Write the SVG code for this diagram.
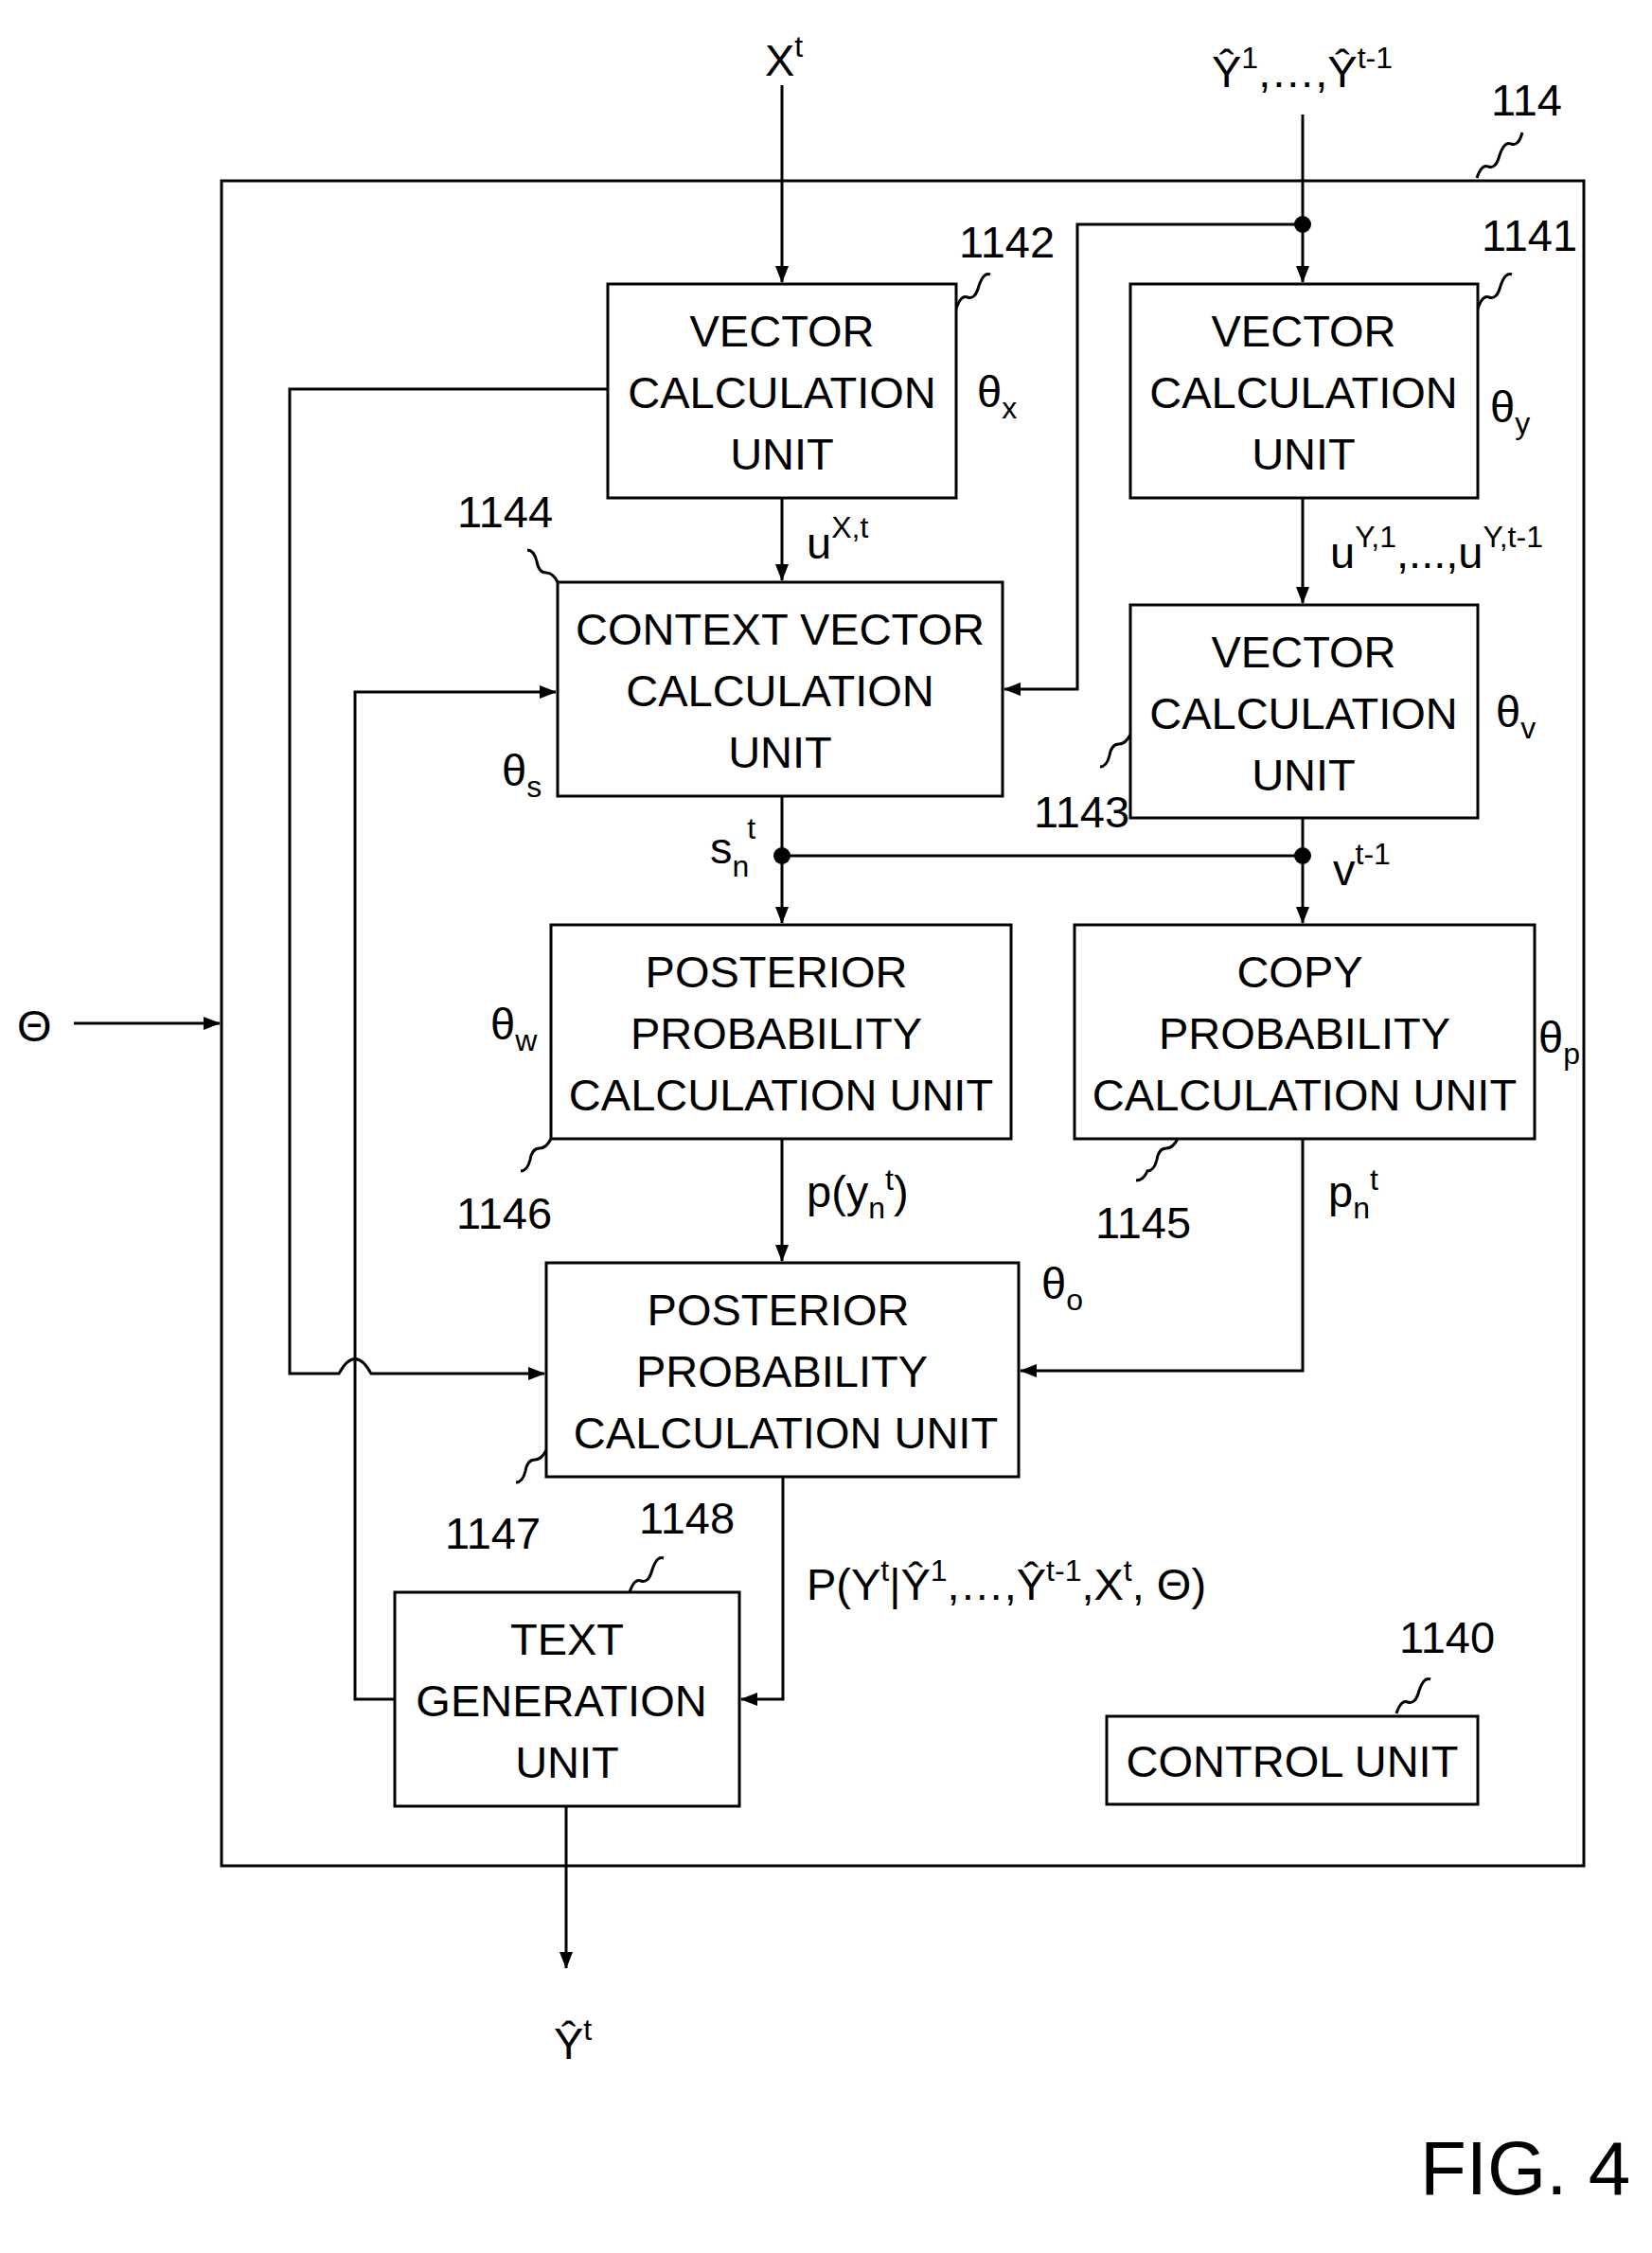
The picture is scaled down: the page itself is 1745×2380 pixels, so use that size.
<svg xmlns="http://www.w3.org/2000/svg" width="1745" height="2380" viewBox="0 0 1745 2380">
<defs>
<marker id="a" markerWidth="18" markerHeight="14" refX="17" refY="7" orient="auto" markerUnits="userSpaceOnUse" viewBox="0 0 18 14"><path d="M0,0 L18,7 L0,14 z" fill="#000"/></marker>
<style>
.b{fill:#fff;stroke:#000;stroke-width:3}
.l{fill:none;stroke:#000;stroke-width:3}
.t{font-family:"Liberation Sans",Arial,sans-serif;font-size:47px;fill:#000}
.c{text-anchor:middle}
.s{font-size:32px}
</style>
</defs>
<rect x="0" y="0" width="1745" height="2380" fill="#fff"/>
<rect class="b" x="234" y="191" width="1439" height="1780"/>
<g id="connectors" class="l">
<path d="M826,90 V298" marker-end="url(#a)"/>
<path d="M1376,121 V298" marker-end="url(#a)"/>
<path d="M1376,237 H1138 V728 H1061" marker-end="url(#a)"/>
<path d="M826,526 V613" marker-end="url(#a)"/>
<path d="M1376,526 V637" marker-end="url(#a)"/>
<path d="M826,841 V975" marker-end="url(#a)"/>
<path d="M826,904 H1376"/>
<path d="M1376,864 V975" marker-end="url(#a)"/>
<path d="M826,1203 V1332" marker-end="url(#a)"/>
<path d="M1376,1203 V1448 H1078" marker-end="url(#a)"/>
<path d="M642,411 H306 V1451 H358 Q375,1420 392,1451 H575" marker-end="url(#a)"/>
<path d="M417,1795 H375 V731 H587" marker-end="url(#a)"/>
<path d="M827,1560 V1795 H783" marker-end="url(#a)"/>
<path d="M598,1908 V2079" marker-end="url(#a)"/>
<path d="M78,1081 H232" marker-end="url(#a)"/>
<path d="M1560,188 q5,-15 12,-12 q8,3 12,-12 q5,-15 12,-12 q8,3 12,-12"/>
<path d="M1010,326 q5,-15 12,-12 q8,3 12,-12 q5,-15 12,-12"/>
<path d="M1561,326 q5,-15 12,-12 q8,3 12,-12 q5,-15 12,-12"/>
<path d="M589,615 q-5,-10 -12,-10 q-8,0 -10,-12 q-3,-12 -10,-12"/>
<path d="M1194,776 q-5,10 -12,10 q-8,0 -10,12 q-3,12 -10,12"/>
<path d="M582,1203 q-5,10 -12,10 q-8,0 -10,12 q-3,12 -10,12"/>
<path d="M1244,1203 q-5,10 -12,10 q-8,0 -10,12 q-3,12 -10,12 q-4,10 -12,10"/>
<path d="M577,1532 q-5,10 -12,10 q-8,0 -10,12 q-3,12 -10,12"/>
<path d="M665,1682 q5,-15 12,-12 q8,3 12,-12 q5,-15 12,-12"/>
<path d="M1475,1810 q5,-15 12,-12 q8,3 12,-12 q5,-15 12,-12"/>
</g>
<g fill="#000"><circle cx="1376" cy="237" r="9"/><circle cx="826" cy="904" r="9"/><circle cx="1376" cy="904" r="9"/></g>
<g id="n1142"><rect class="b" x="642" y="300" width="368" height="226"/><text class="t c" x="826" y="366">VECTOR</text><text class="t c" x="826" y="431">CALCULATION</text><text class="t c" x="826" y="496">UNIT</text></g>
<g id="n1141"><rect class="b" x="1194" y="300" width="367" height="226"/><text class="t c" x="1377" y="366">VECTOR</text><text class="t c" x="1377" y="431">CALCULATION</text><text class="t c" x="1377" y="496">UNIT</text></g>
<g id="n1144"><rect class="b" x="589" y="615" width="470" height="226"/><text class="t c" x="824" y="681">CONTEXT VECTOR</text><text class="t c" x="824" y="746">CALCULATION</text><text class="t c" x="824" y="811">UNIT</text></g>
<g id="n1143"><rect class="b" x="1194" y="639" width="367" height="225"/><text class="t c" x="1377" y="705">VECTOR</text><text class="t c" x="1377" y="770">CALCULATION</text><text class="t c" x="1377" y="835">UNIT</text></g>
<g id="n1146"><rect class="b" x="582" y="977" width="486" height="226"/><text class="t c" x="820" y="1043">POSTERIOR</text><text class="t c" x="820" y="1108">PROBABILITY</text><text class="t c" x="825" y="1173">CALCULATION UNIT</text></g>
<g id="n1145"><rect class="b" x="1135" y="977" width="486" height="226"/><text class="t c" x="1373" y="1043">COPY</text><text class="t c" x="1378" y="1108">PROBABILITY</text><text class="t c" x="1378" y="1173">CALCULATION UNIT</text></g>
<g id="n1147"><rect class="b" x="577" y="1334" width="499" height="226"/><text class="t c" x="822" y="1400">POSTERIOR</text><text class="t c" x="826" y="1465">PROBABILITY</text><text class="t c" x="830" y="1530">CALCULATION UNIT</text></g>
<g id="n1148"><rect class="b" x="417" y="1682" width="364" height="226"/><text class="t c" x="599" y="1748">TEXT</text><text class="t c" x="593" y="1813">GENERATION</text><text class="t c" x="599" y="1878">UNIT</text></g>
<g id="n1140"><rect class="b" x="1169" y="1813" width="392" height="93"/><text class="t c" x="1365" y="1877">CONTROL UNIT</text></g>
<g class="t">
<text x="808" y="80">X<tspan class="s" dy="-20">t</tspan></text>
<text x="1280" y="92">Ŷ<tspan class="s" dy="-20">1</tspan><tspan dy="20">,…,Ŷ</tspan><tspan class="s" dy="-20">t-1</tspan></text>
<text x="1575" y="122">114</text>
<text x="1013" y="272">1142</text>
<text x="1565" y="265">1141</text>
<text x="1032" y="430">θ<tspan class="s" dy="12">x</tspan></text>
<text x="1574" y="446">θ<tspan class="s" dy="12">y</tspan></text>
<text x="852" y="590">u<tspan class="s" dy="-22">X,t</tspan></text>
<text x="1405" y="600">u<tspan class="s" dy="-22">Y,1</tspan><tspan dy="22">,...,u</tspan><tspan class="s" dy="-22">Y,t-1</tspan></text>
<text x="483" y="557">1144</text>
<text x="1580" y="768">θ<tspan class="s" dy="12">v</tspan></text>
<text x="1092" y="874">1143</text>
<text x="530" y="830">θ<tspan class="s" dy="12">s</tspan></text>
<text x="750" y="912">s<tspan class="s" dy="14">n</tspan><tspan class="s" dx="-2" dy="-40">t</tspan></text>
<text x="1408" y="935">v<tspan class="s" dy="-22">t-1</tspan></text>
<text x="518" y="1098">θ<tspan class="s" dy="12">w</tspan></text>
<text x="1625" y="1112">θ<tspan class="s" dy="12">p</tspan></text>
<text x="482" y="1298">1146</text>
<text x="1157" y="1308">1145</text>
<text x="852" y="1275">p(y<tspan class="s" dy="12">n</tspan><tspan class="s" dy="-30">t</tspan><tspan dy="18">)</tspan></text>
<text x="1403" y="1275">p<tspan class="s" dy="12">n</tspan><tspan class="s" dy="-30">t</tspan></text>
<text x="1100" y="1372">θ<tspan class="s" dy="12">o</tspan></text>
<text x="470" y="1636">1147</text>
<text x="675" y="1620">1148</text>
<text x="852" y="1690">P(Y<tspan class="s" dy="-20">t</tspan><tspan dy="20">|Ŷ</tspan><tspan class="s" dy="-20">1</tspan><tspan dy="20">,…,Ŷ</tspan><tspan class="s" dy="-20">t-1</tspan><tspan dy="20">,X</tspan><tspan class="s" dy="-20">t</tspan><tspan dy="20">, Θ)</tspan></text>
<text x="1478" y="1746">1140</text>
<text x="18" y="1100">Θ</text>
<text x="585" y="2175">Ŷ<tspan class="s" dy="-20">t</tspan></text>
<text x="1500" y="2318" style="font-size:80px">FIG. 4</text>
</g>
</svg>
